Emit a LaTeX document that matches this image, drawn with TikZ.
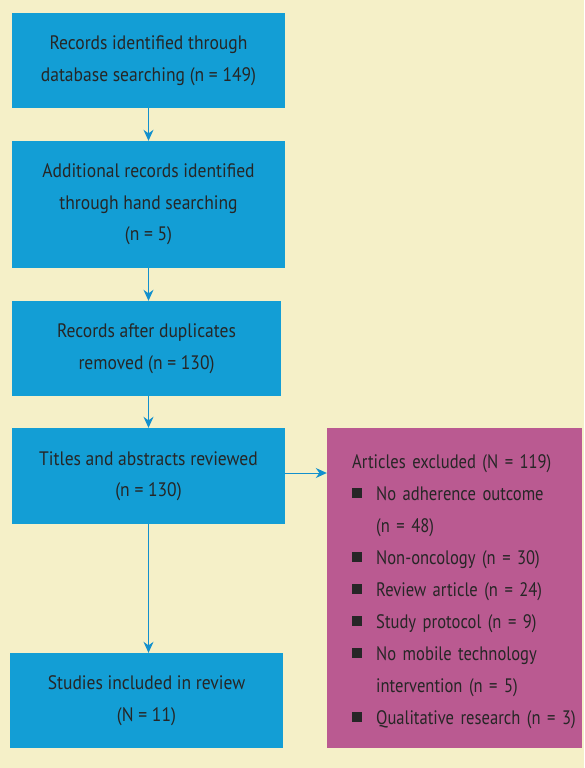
\documentclass[tikz,border=0pt]{standalone}
\usepackage{fontspec}
\setmainfont[FakeStretch=0.9]{PT Sans}
\newfontfamily\pkfont[FakeStretch=0.85,WordSpace=0.75]{PT Sans}
\usetikzlibrary{arrows.meta}

\definecolor{cream}{HTML}{F5F0C8}
\definecolor{boxblue}{HTML}{139ED5}
\definecolor{arrblue}{HTML}{1290CD}
\definecolor{exclpink}{HTML}{BA5A91}
\definecolor{txtgray}{HTML}{262626}

\newcommand{\exbul}{\makebox[24pt][l]{\raisebox{2pt}{\rule{10pt}{10pt}}}}

\begin{document}
\begin{tikzpicture}[x=1pt,y=-1pt]
\tikzset{ >={Stealth[length=11pt,width=10pt]},
  blbox/.style={fill=boxblue, minimum width=273pt, inner sep=0pt, align=center,
    text=txtgray, font=\fontsize{19.5}{31.5}\selectfont,
    execute at begin node={\rule{0pt}{21pt}}},
  pkbox/.style={fill=exclpink, minimum width=255pt, minimum height=320pt, inner sep=0pt},
  pktext/.style={text width=228pt, inner sep=0pt, align=left, text=txtgray,
    font=\pkfont\fontsize{19.5}{32}\selectfont},
  flow/.style={->, arrblue, line width=1pt},
}

\fill [cream] (0,0) rectangle (584,768);
\useasboundingbox (0,0) rectangle (584,768);

%\draw [lightgray, dashed](0,0) grid [step=50] (584,768);

\node [blbox, minimum height=95pt]  (rec) at (148.5, 60.5) {Records identified through\\database searching (n = 149)};
\node [blbox, minimum height=127pt] (add) at (148.5,204.5) {Additional records identified\\through hand searching\\(n = 5)};
\node [blbox, minimum height=95pt, minimum width=269pt] (dup) at (146.5,348.5) {Records after duplicates\\removed (n = 130)};
\node [blbox, minimum height=96pt]  (tit) at (148.5,476.0) {Titles and abstracts reviewed\\(n = 130)};
\node [blbox, minimum height=95pt]  (inc) at (146.5,700.5) {Studies included in review\\(N = 11)};

\node [pkbox] (exc) at (454.5,588.0) {};
\node [pktext, anchor=base west] (exctxt) at (352,468) {Articles excluded (N = 119)\\
\exbul No adherence outcome\\
\hspace*{24pt}(n = 48)\\
\exbul Non-oncology (n = 30)\\
\exbul Review article (n = 24)\\
\exbul Study protocol (n = 9)\\
\exbul No mobile technology\\
\hspace*{24pt}intervention (n = 5)\\
\exbul Qualitative research (n = 3)};

\draw [flow] (rec.south) -- (add.north);
\draw [flow] (add.south) -- (add.south |- dup.north);
\draw [flow] (add.south |- dup.south) -- (add.south |- tit.north);
\draw [flow] (tit.south) -- (tit.south |- inc.north);
\draw [flow] ([yshift=3pt]tit.east) -- ([yshift=3pt]tit.east -| exc.west);

\end{tikzpicture}
\end{document}
